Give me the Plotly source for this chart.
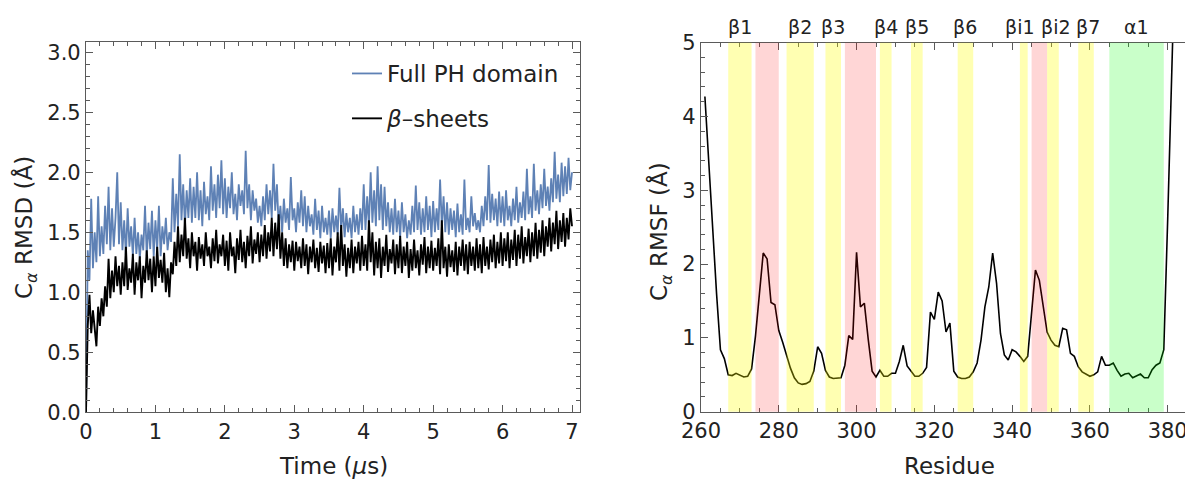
import plotly.graph_objects as go

W, H = 1185, 479
FONT = "DejaVu Sans"

# ---------------- data: RMSD time series (sampled every 0.025 us) ----------------
time_us = [round(i * 0.025, 3) for i in range(281)]

rmsd_full = [
    0.0, 1.35, 1.1, 1.78, 1.2, 1.5, 1.25, 1.8, 1.3, 1.55, 1.32, 1.72, 1.4, 1.88, 1.35, 1.7, 1.38, 1.62, 2.0, 1.4,
    1.75, 1.35, 1.6, 1.3, 1.7, 1.38, 1.55, 1.3, 1.62, 1.32, 1.5, 1.28, 1.48, 1.35, 1.72, 1.3, 1.58, 1.36, 1.68, 1.3,
    1.6, 1.35, 1.72, 1.3, 1.55, 1.4, 1.62, 1.35, 1.5, 1.42, 1.95, 1.5, 1.82, 1.55, 2.15, 1.6, 1.9, 1.55, 1.85, 1.62,
    1.95, 1.58, 1.88, 1.62, 2.0, 1.6, 1.85, 1.55, 1.92, 1.65, 1.8, 1.6, 2.05, 1.68, 1.9, 1.62, 1.98, 1.7, 2.1, 1.65,
    1.95, 1.62, 1.88, 1.7, 2.0, 1.65, 1.82, 1.6, 1.9, 1.72, 1.85, 1.65, 2.18, 1.7, 1.9, 1.6, 1.85, 1.68, 1.78, 1.58,
    1.72, 1.55, 1.8, 1.6, 1.9, 1.65, 1.85, 1.62, 2.07, 1.68, 1.9, 1.55, 1.72, 1.5, 1.78, 1.58, 1.7, 1.52, 1.96, 1.6,
    1.7, 1.5, 1.75, 1.58, 1.85, 1.55, 1.8, 1.5, 1.72, 1.55, 1.65, 1.48, 1.78, 1.52, 1.68, 1.45, 1.72, 1.5, 1.62, 1.48,
    1.68, 1.45, 1.7, 1.5, 1.64, 1.48, 1.87, 1.52, 1.7, 1.46, 1.66, 1.5, 1.62, 1.45, 1.72, 1.5, 1.65, 1.48, 1.7, 1.52,
    1.9, 1.52, 1.8, 1.55, 2.0, 1.58, 1.85, 1.55, 2.05, 1.6, 1.9, 1.52, 1.88, 1.55, 1.75, 1.5, 1.7, 1.48, 1.78, 1.5,
    1.68, 1.46, 1.75, 1.5, 1.65, 1.45, 1.6, 1.48, 1.72, 1.5, 1.89, 1.52, 1.75, 1.48, 1.7, 1.5, 1.8, 1.52, 1.72, 1.46,
    1.76, 1.5, 1.7, 1.52, 1.94, 1.55, 1.8, 1.5, 1.75, 1.48, 1.7, 1.52, 1.68, 1.46, 1.74, 1.5, 1.65, 1.48, 1.94, 1.52,
    1.62, 1.5, 1.8, 1.55, 1.66, 1.52, 1.6, 1.5, 1.72, 1.55, 1.8, 1.6, 2.06, 1.58, 1.82, 1.6, 1.78, 1.55, 1.84, 1.58,
    1.8, 1.55, 1.85, 1.6, 1.72, 1.55, 1.78, 1.6, 1.88, 1.58, 1.75, 1.62, 1.84, 1.6, 2.03, 1.65, 1.8, 1.62, 2.07, 1.68,
    1.85, 1.65, 1.9, 1.7, 2.03, 1.72, 1.88, 1.68, 1.95, 1.75, 2.17, 1.78, 1.98, 1.75, 2.08, 1.8, 2.05, 1.82, 2.12, 1.85,
    2.0,
]

rmsd_sheets = [
    0.0, 0.72, 0.98, 0.66, 0.85, 0.7, 0.55, 0.88, 0.72, 0.95, 0.8, 1.05, 0.88, 1.28, 0.95, 1.18, 1.0, 1.3, 1.05, 1.22,
    0.98, 1.25, 1.05, 1.38, 1.02, 1.2, 1.08, 1.32, 0.98, 1.25, 1.1, 1.3, 0.95, 1.22, 1.08, 1.35, 1.1, 1.28, 1.0, 1.3,
    1.05, 1.38, 1.12, 1.27, 1.08, 1.33, 1.0, 1.2, 0.96, 1.25, 1.15, 1.42, 1.22, 1.55, 1.25, 1.48, 1.3, 1.62, 1.28, 1.45,
    1.2, 1.5, 1.3, 1.42, 1.18, 1.46, 1.28, 1.4, 1.22, 1.5, 1.3, 1.38, 1.2, 1.45, 1.26, 1.52, 1.24, 1.4, 1.3, 1.48,
    1.22, 1.43, 1.18, 1.5, 1.3, 1.38, 1.16, 1.45, 1.27, 1.52, 1.25, 1.42, 1.2, 1.47, 1.3, 1.55, 1.24, 1.44, 1.32, 1.5,
    1.25, 1.48, 1.3, 1.56, 1.28, 1.5, 1.34, 1.62, 1.3, 1.58, 1.36, 1.65, 1.28, 1.5, 1.22, 1.45, 1.2, 1.4, 1.25, 1.43,
    1.18, 1.42, 1.26, 1.38, 1.2, 1.45, 1.22, 1.4, 1.15, 1.38, 1.25, 1.44, 1.2, 1.37, 1.17, 1.42, 1.24, 1.39, 1.16, 1.41,
    1.2, 1.45, 1.14, 1.38, 1.25, 1.5, 1.18, 1.56, 1.22, 1.4, 1.13, 1.37, 1.2, 1.44, 1.16, 1.38, 1.24, 1.42, 1.18, 1.47,
    1.22, 1.4, 1.18, 1.6, 1.25, 1.5, 1.14, 1.42, 1.2, 1.45, 1.12, 1.38, 1.22, 1.48, 1.17, 1.36, 1.24, 1.44, 1.15, 1.4,
    1.2, 1.47, 1.16, 1.38, 1.22, 1.42, 1.12, 1.36, 1.18, 1.44, 1.2, 1.35, 1.14, 1.4, 1.23, 1.46, 1.16, 1.38, 1.2, 1.43,
    1.18, 1.37, 1.22, 1.45, 1.15, 1.6, 1.2, 1.38, 1.13, 1.4, 1.21, 1.35, 1.17, 1.42, 1.14, 1.38, 1.22, 1.44, 1.18, 1.4,
    1.15, 1.42, 1.22, 1.38, 1.18, 1.45, 1.2, 1.4, 1.16, 1.46, 1.22, 1.38, 1.19, 1.44, 1.25, 1.48, 1.2, 1.42, 1.24, 1.5,
    1.22, 1.45, 1.26, 1.5, 1.2, 1.44, 1.27, 1.52, 1.22, 1.48, 1.28, 1.55, 1.24, 1.46, 1.3, 1.53, 1.25, 1.5, 1.3, 1.58,
    1.28, 1.52, 1.33, 1.6, 1.3, 1.55, 1.38, 1.62, 1.34, 1.58, 1.4, 1.68, 1.36, 1.6, 1.42, 1.66, 1.38, 1.62, 1.44, 1.7,
    1.55,
]

# ---------------- data: RMSF per residue ----------------
residues = list(range(261, 383))
rmsf = [
    4.27, 3.35, 2.5, 1.6, 0.84, 0.72, 0.5, 0.49, 0.52, 0.49,          # 261-270
    0.47, 0.48, 0.58, 1.02, 1.6, 2.15, 2.07, 1.48, 1.45, 1.1,          # 271-280
    0.94, 0.77, 0.59, 0.46, 0.39, 0.37, 0.38, 0.41, 0.55, 0.88,        # 281-290
    0.79, 0.56, 0.47, 0.45, 0.46, 0.46, 0.63, 1.03, 0.98, 2.16,        # 291-300
    1.42, 1.47, 0.98, 0.55, 0.47, 0.56, 0.48, 0.48, 0.52, 0.52,        # 301-310
    0.68, 0.9, 0.62, 0.55, 0.48, 0.48, 0.52, 0.6, 1.35, 1.25,          # 311-320
    1.62, 1.5, 1.08, 1.2, 0.55, 0.47, 0.45, 0.45, 0.47, 0.54,          # 321-330
    0.66, 0.97, 1.42, 1.69, 2.15, 1.74, 1.06, 0.77, 0.7, 0.84,         # 331-340
    0.81, 0.75, 0.68, 0.75, 1.29, 1.92, 1.78, 1.42, 1.08, 0.97,        # 341-350
    0.9, 0.88, 1.13, 1.11, 0.79, 0.75, 0.61, 0.54, 0.51, 0.48,         # 351-360
    0.5, 0.54, 0.75, 0.63, 0.63, 0.66, 0.56, 0.48, 0.51, 0.52,         # 361-370
    0.46, 0.48, 0.51, 0.46, 0.46, 0.57, 0.63, 0.66, 0.84, 2.6,         # 371-380
    4.5, 6.4,                                                          # 381-382
]

# secondary-structure bands
band_start = [267, 274, 282, 292, 297, 306, 314, 326, 342, 345, 349, 357, 365]
band_end = [273, 280, 289, 296, 305, 309, 317, 330, 344, 349, 352, 361, 379]
band_kind = ["sheet", "loop", "sheet", "sheet", "loop", "sheet", "sheet", "sheet",
             "sheet", "loop", "sheet", "sheet", "helix"]
band_label = ["β1", "", "β2", "β3", "", "β4", "β5", "β6", "βi1", "", "βi2", "β7", "α1"]
band_label_pos = [270, None, 285.5, 294, None, 307.5, 315.5, 328, 342.0, None, 351.3, 359.6, 372]
kind_color = {"sheet": "rgba(255,255,0,0.30)", "loop": "rgba(255,0,0,0.16)", "helix": "rgba(0,255,0,0.21)"}

BLUE = "rgb(94,129,181)"
AXC = "#5a5a5a"

fig = go.Figure()
fig.add_trace(go.Scatter(x=time_us, y=rmsd_full, mode="lines", name="Full PH domain",
                         line=dict(color=BLUE, width=1.8), legendgroup="a",
                         xaxis="x", yaxis="y"))
fig.add_trace(go.Scatter(x=time_us, y=rmsd_sheets, mode="lines", name="<i>β</i>–sheets",
                         line=dict(color="black", width=1.9), legendgroup="b",
                         xaxis="x", yaxis="y"))
fig.add_trace(go.Scatter(x=residues, y=rmsf, mode="lines", showlegend=False,
                         line=dict(color="black", width=1.6), xaxis="x2", yaxis="y2"))

shapes = []
annotations = []
for s, e, k, lab, lp in zip(band_start, band_end, band_kind, band_label, band_label_pos):
    shapes.append(dict(type="rect", xref="x2", yref="y2 domain", x0=s, x1=e, y0=0, y1=1,
                       fillcolor=kind_color[k], line=dict(width=0), layer="above"))
    if lab:
        annotations.append(dict(xref="x2", yref="paper", x=lp, y=1 - 27 / H, text=lab,
                                showarrow=False, font=dict(family=FONT, size=19, color="#222"),
                                xanchor="center", yanchor="middle"))

tickfont = dict(family=FONT, size=21, color="#222")
titlefont = dict(family=FONT, size=23, color="#222")

annotations += [
    dict(xref="paper", yref="paper", x=333 / W, y=1 - 466 / H, text="Time (<i>μ</i>s)",
         showarrow=False, font=titlefont, xanchor="center", yanchor="middle"),
    dict(xref="paper", yref="paper", x=949 / W, y=1 - 466 / H, text="Residue",
         showarrow=False, font=titlefont, xanchor="center", yanchor="middle"),
    dict(xref="paper", yref="paper", x=26 / W, y=1 - 228 / H, text="C<sub><i>α</i></sub> RMSD (Å)",
         showarrow=False, font=titlefont, textangle=-90, xanchor="center", yanchor="middle"),
    dict(xref="paper", yref="paper", x=660 / W, y=1 - 232 / H, text="C<sub><i>α</i></sub> RMSF (Å)",
         showarrow=False, font=titlefont, textangle=-90, xanchor="center", yanchor="middle"),
]

common = dict(showline=True, linecolor=AXC, linewidth=1.2, ticks="inside", tickcolor=AXC,
              ticklen=7, tickwidth=1, showgrid=False, zeroline=False, tickfont=tickfont,
              automargin=False, ticklabeloverflow="allow")

fig.update_layout(
    width=W, height=H, margin=dict(l=0, r=0, t=0, b=0, autoexpand=False),
    paper_bgcolor="white", plot_bgcolor="white",
    font=dict(family=FONT),
    showlegend=True,
    legend=dict(x=347 / W, y=1 - 52 / H, xanchor="left", yanchor="top",
                font=dict(family=FONT, size=23, color="#222"), bgcolor="rgba(0,0,0,0)",
                tracegroupgap=12, traceorder="grouped", itemwidth=30),
    xaxis=dict(domain=[86 / W, 580 / W], range=[0, 7.115], anchor="y", mirror="allticks",
               tick0=0, dtick=1, minor=dict(dtick=0.2, ticks="inside", ticklen=4, tickcolor=AXC),
               **common),
    yaxis=dict(domain=[1 - 412.3 / H, 1 - 41.7 / H], range=[0, 3.088], anchor="x", mirror="allticks",
               tick0=0, dtick=0.5, tickformat=".1f",
               minor=dict(dtick=0.1, ticks="inside", ticklen=4, tickcolor=AXC), **common),
    xaxis2=dict(domain=[701 / W, 1.0], range=[260, 260 + 484 / 3.889], anchor="y2", mirror="allticks",
                tick0=260, dtick=20, minor=dict(dtick=5, ticks="inside", ticklen=4, tickcolor=AXC),
                **common),
    yaxis2=dict(domain=[1 - 411.7 / H, 1 - 42.7 / H], range=[0, 5], anchor="x2", mirror=False,
                tick0=0, dtick=1, minor=dict(dtick=0.2, ticks="inside", ticklen=4, tickcolor=AXC),
                **common),
    shapes=shapes,
    annotations=annotations,
)

fig.write_html("out.html")
